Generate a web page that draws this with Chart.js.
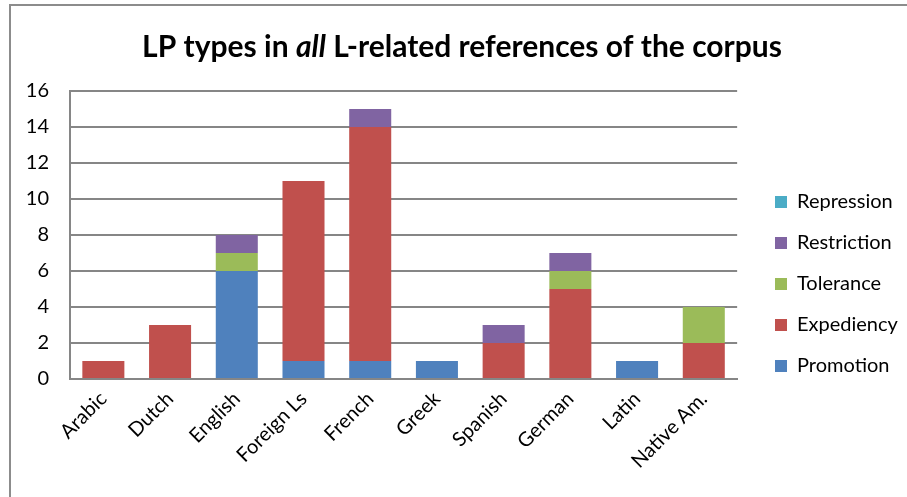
<!DOCTYPE html>
<html>
<head>
<meta charset="utf-8">
<script src="https://cdn.jsdelivr.net/npm/chart.js@4.4.1/dist/chart.umd.min.js"></script>
<style>
  html, body { margin: 0; padding: 0; background: #fff; overflow: hidden; }
  #frame { position: absolute; left: 9px; top: 4px; width: 1000px; height: 600px;
           border-left: 2px solid #8c8c8c; border-top: 2px solid #8c8c8c; }
  #wrap { position: absolute; left: 0; top: 0; width: 907px; height: 497px; }
</style>
</head>
<body>
<div id="frame"></div>
<div id="wrap"><canvas id="c" width="907" height="497"></canvas></div>
<script>
// ---- data ----
const categories = ['Arabic', 'Dutch', 'English', 'Foreign Ls', 'French', 'Greek', 'Spanish', 'German', 'Latin', 'Native Am.'];
const promotion   = [0, 0, 6, 1, 1, 1, 0, 0, 1, 0];
const expediency  = [1, 3, 0, 10, 13, 0, 2, 5, 0, 2];
const tolerance   = [0, 0, 1, 0, 0, 0, 0, 1, 0, 2];
const restriction = [0, 0, 1, 0, 1, 0, 1, 1, 0, 0];
const repression  = [0, 0, 0, 0, 0, 0, 0, 0, 0, 0];
const seriesNames = ['Promotion', 'Expediency', 'Tolerance', 'Restriction', 'Repression'];
const yMin = 0, yMax = 16, yStep = 2;
const titleParts = [['LP types in ', false], ['all', true], [' L-related references of the corpus', false]];

const colors = ['#4F81BD', '#C0504D', '#9BBB59', '#8064A2', '#4BACC6'];
const seriesData = [promotion, expediency, tolerance, restriction, repression];
const FONT = "Lato, 'Open Sans', sans-serif";
const LEG_PAD = 21;

const titlePlugin = {
  id: 'mixedTitle',
  afterDraw(chart) {
    const ctx = chart.ctx;
    ctx.save();
    ctx.fillStyle = '#000';
    ctx.textBaseline = 'alphabetic';
    const size = 30;
    const fonts = titleParts.map(p => (p[1] ? 'italic ' : '') + 'bold ' + size + 'px Lato');
    let total = 0;
    const widths = titleParts.map((p, i) => { ctx.font = fonts[i]; const w = ctx.measureText(p[0]).width; total += w; return w; });
    let x = 462 - total / 2;
    titleParts.forEach((p, i) => { ctx.font = fonts[i]; ctx.textAlign = 'left'; ctx.fillText(p[0], x, 57); x += widths[i]; });
    ctx.restore();
  }
};

const legendShift = {
  id: 'legendShift',
  afterLayout(chart) {
    const lg = chart.legend;
    if (lg) { const dx = 775 - (lg.left + LEG_PAD); lg.left += dx; lg.right += dx; }
  }
};

new Chart(document.getElementById('c'), {
  type: 'bar',
  data: {
    labels: categories,
    datasets: seriesNames.map((n, i) => ({
      label: n,
      data: seriesData[i],
      backgroundColor: colors[i],
      borderWidth: 0,
      barPercentage: 0.63,
      categoryPercentage: 1.0
    }))
  },
  options: {
    responsive: false,
    animation: false,
    layout: { padding: { left: 0, top: 91, bottom: 20, right: 16 } },
    plugins: {
      title: { display: false },
      tooltip: { enabled: false },
      legend: {
        position: 'right',
        reverse: true,
        labels: {
          boxWidth: 12, boxHeight: 12, padding: LEG_PAD,
          color: '#000',
          font: { family: FONT, size: 20 }
        }
      }
    },
    scales: {
      x: {
        stacked: true,
        grid: { display: false },
        border: { display: true, color: '#868686', width: 2 },
        ticks: {
          color: '#000', autoSkip: false, minRotation: 45, maxRotation: 45, padding: 0,
          font: { family: FONT, size: 20 }
        },
        afterFit(s) { s.height = 98; }
      },
      y: {
        stacked: true,
        min: yMin, max: yMax,
        grid: { color: '#868686', lineWidth: 2, drawTicks: false },
        border: { display: true, color: '#868686', width: 2 },
        ticks: {
          stepSize: yStep, color: '#000', padding: 21,
          font: { family: FONT, size: 20 }
        },
        afterFit(s) { s.width = 70; }
      }
    }
  },
  plugins: [titlePlugin, legendShift]
});
</script>
</body>
</html>
